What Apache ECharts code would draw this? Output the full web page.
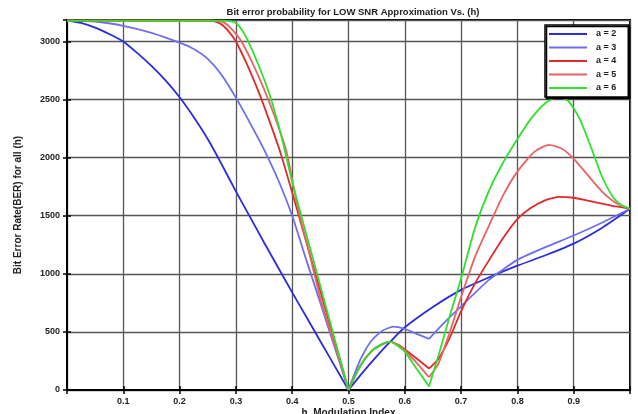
<!DOCTYPE html>
<html>
<head>
<meta charset="utf-8">
<script src="https://cdn.jsdelivr.net/npm/echarts@6/dist/echarts.min.js"></script>
<style>html,body{margin:0;padding:0;background:#fff;}#c{width:638px;height:414px;}</style>
</head>
<body>
<div id="c"></div>
<script>
const titleText = 'Bit error probability for LOW SNR Approximation Vs. (h)';
const xLabel = 'h, Modulation Index';
const yLabel = 'Bit Error Rate(BER) for all (h)';
const legendNames = ['a = 2', 'a = 3', 'a = 4', 'a = 5', 'a = 6'];
const xTicks = [0.1, 0.2, 0.3, 0.4, 0.5, 0.6, 0.7, 0.8, 0.9];
const yTicks = [0, 500, 1000, 1500, 2000, 2500, 3000];

const a2 = [[0,3180],[0.025,3160],[0.05,3120],[0.075,3065],[0.1,3000],[0.125,2900],[0.15,2790],[0.175,2665],[0.2,2520],[0.225,2350],[0.25,2160],[0.275,1940],[0.3,1710],[0.325,1490],[0.35,1270],[0.375,1055],[0.4,840],[0.425,630],[0.45,420],[0.475,210],[0.5,0],[0.525,150],[0.55,290],[0.575,420],[0.6,540],[0.65,715],[0.7,862],[0.75,970],[0.8,1070],[0.85,1160],[0.9,1260],[0.95,1395],[1,1560]];
const a3 = [[0,3180],[0.05,3172],[0.1,3135],[0.15,3075],[0.2,2990],[0.225,2935],[0.25,2850],[0.275,2710],[0.3,2517],[0.325,2300],[0.35,2070],[0.375,1810],[0.4,1500],[0.425,1120],[0.45,750],[0.475,375],[0.5,0],[0.52,250],[0.54,420],[0.56,510],[0.58,545],[0.6,525],[0.62,485],[0.643,440],[0.67,580],[0.7,720],[0.75,950],[0.8,1120],[0.85,1230],[0.9,1330],[0.95,1440],[1,1560]];
const a4 = [[0,3180],[0.25,3180],[0.26,3176],[0.27,3160],[0.28,3125],[0.29,3070],[0.3,3000],[0.32,2800],[0.34,2570],[0.36,2310],[0.38,2030],[0.4,1700],[0.42,1360],[0.44,1020],[0.46,680],[0.48,340],[0.5,0],[0.52,200],[0.54,330],[0.56,395],[0.575,415],[0.59,385],[0.6,350],[0.62,275],[0.643,185],[0.66,270],[0.68,450],[0.7,680],[0.725,920],[0.75,1120],[0.775,1310],[0.8,1470],[0.825,1570],[0.85,1635],[0.875,1663],[0.9,1655],[0.925,1630],[0.95,1605],[0.975,1580],[1,1560]];
const a5 = [[0,3180],[0.26,3180],[0.27,3175],[0.28,3160],[0.29,3120],[0.3,3065],[0.31,3000],[0.33,2810],[0.35,2590],[0.37,2340],[0.39,2050],[0.41,1570],[0.43,1185],[0.45,790],[0.475,395],[0.5,0],[0.52,200],[0.54,330],[0.56,395],[0.575,415],[0.59,380],[0.6,340],[0.62,240],[0.643,110],[0.66,230],[0.68,500],[0.7,800],[0.725,1150],[0.75,1420],[0.775,1680],[0.8,1880],[0.83,2050],[0.856,2110],[0.88,2075],[0.9,1990],[0.925,1850],[0.95,1710],[0.975,1610],[1,1560]];
const a6 = [[0,3180],[0.28,3180],[0.29,3176],[0.3,3160],[0.31,3105],[0.32,3020],[0.34,2800],[0.36,2540],[0.38,2200],[0.4,1790],[0.42,1430],[0.44,1075],[0.46,715],[0.48,358],[0.5,0],[0.52,200],[0.54,330],[0.56,395],[0.575,415],[0.59,370],[0.6,330],[0.62,190],[0.643,30],[0.66,300],[0.68,640],[0.7,960],[0.725,1400],[0.75,1720],[0.775,1960],[0.8,2160],[0.825,2340],[0.85,2470],[0.87,2520],[0.89,2490],[0.91,2340],[0.93,2100],[0.95,1840],[0.97,1660],[0.985,1590],[1,1560]];

const seriesData = [a2, a3, a4, a5, a6];
const kinks = [[0.5], [0.5, 0.643], [0.5, 0.643], [0.5, 0.643], [0.5, 0.643]];
const colors = ['#2b2be0', '#6f6fee', '#e02a2a', '#e86464', '#2fe02f'];

function splitAt(d, ks) {
  const parts = [[]];
  d.forEach(p => {
    parts[parts.length - 1].push(p);
    if (ks.some(k => Math.abs(k - p[0]) < 1e-9)) parts.push([p]);
  });
  return parts.filter(s => s.length > 1);
}

const series = [];
seriesData.forEach((d, i) => {
  splitAt(d, kinks[i]).forEach(seg => {
    series.push({
      name: legendNames[i], type: 'line', data: seg,
      showSymbol: false, symbol: 'none', smooth: 0.2,
      lineStyle: {color: colors[i], width: 1.8},
      itemStyle: {color: colors[i]}
    });
  });
});

const chart = echarts.init(document.getElementById('c'), null, {renderer: 'canvas'});
const font = 'Liberation Sans, Arial, sans-serif';
const axisCommon = {
  min: 0,
  axisLine: {show: true, lineStyle: {color: '#000', width: 2}},
  axisTick: {show: true, inside: true, length: 4, lineStyle: {color: '#000', width: 1.5}},
  splitLine: {show: true, lineStyle: {color: '#555', width: 1.3}}
};
chart.setOption({
  animation: false,
  backgroundColor: '#fff',
  title: {
    text: titleText, left: 348, top: 2, textAlign: 'center',
    textStyle: {fontFamily: font, fontSize: 9.5, fontWeight: 'bold', color: '#222'}
  },
  grid: {left: 67, right: 8, top: 20, bottom: 24, containLabel: false, outerBoundsMode: 'none',
         show: true, borderColor: '#000', borderWidth: 2, backgroundColor: '#fff'},
  legend: {
    orient: 'vertical', left: 545, top: 25,
    data: legendNames,
    icon: 'rect', itemWidth: 38, itemHeight: 2, itemGap: 3.5,
    padding: [4, 12, 4, 4],
    backgroundColor: '#fff', borderColor: '#000', borderWidth: 1.5,
    shadowColor: '#000', shadowOffsetX: 1.5, shadowOffsetY: 1.5, shadowBlur: 0,
    textStyle: {fontFamily: font, fontSize: 9, fontWeight: 'bold', color: '#222', lineHeight: 10, padding: [0, 0, 0, 4]}
  },
  xAxis: [
    Object.assign({}, axisCommon, {
      type: 'value', max: 1, interval: 0.1,
      name: xLabel, nameLocation: 'middle', nameGap: 18, nameMoveOverlap: false,
      nameTextStyle: {fontFamily: font, fontSize: 10, fontWeight: 'bold', color: '#222', verticalAlign: 'top', padding: 0},
      axisLabel: {
        fontFamily: font, fontSize: 9, fontWeight: 'bold', color: '#222', margin: 7,
        formatter: v => { const r = Math.round(v * 10) / 10; return xTicks.indexOf(r) >= 0 ? r.toFixed(1) : ''; }
      }
    }),
    {type: 'value', min: 0, max: 1, interval: 0.1, position: 'top',
     axisLine: {show: true, lineStyle: {color: '#000', width: 2}},
     axisTick: {show: true, inside: true, length: 4, lineStyle: {color: '#000', width: 1.5}},
     axisLabel: {show: false}, splitLine: {show: false}}
  ],
  yAxis: [
    Object.assign({}, axisCommon, {
      type: 'value', max: 3185, interval: 500,
      name: yLabel, nameLocation: 'middle', nameGap: 44,
      nameTextStyle: {fontFamily: font, fontSize: 10, fontWeight: 'bold', color: '#222'},
      axisLabel: {
        fontFamily: font, fontSize: 9, fontWeight: 'bold', color: '#222', margin: 7,
        formatter: v => yTicks.indexOf(v) >= 0 ? String(v) : ''
      }
    }),
    {type: 'value', min: 0, max: 3185, interval: 500, position: 'right',
     axisLine: {show: true, lineStyle: {color: '#000', width: 2}},
     axisTick: {show: true, inside: true, length: 4, lineStyle: {color: '#000', width: 1.5}},
     axisLabel: {show: false}, splitLine: {show: false}}
  ],
  series: series
});
</script>
</body>
</html>
